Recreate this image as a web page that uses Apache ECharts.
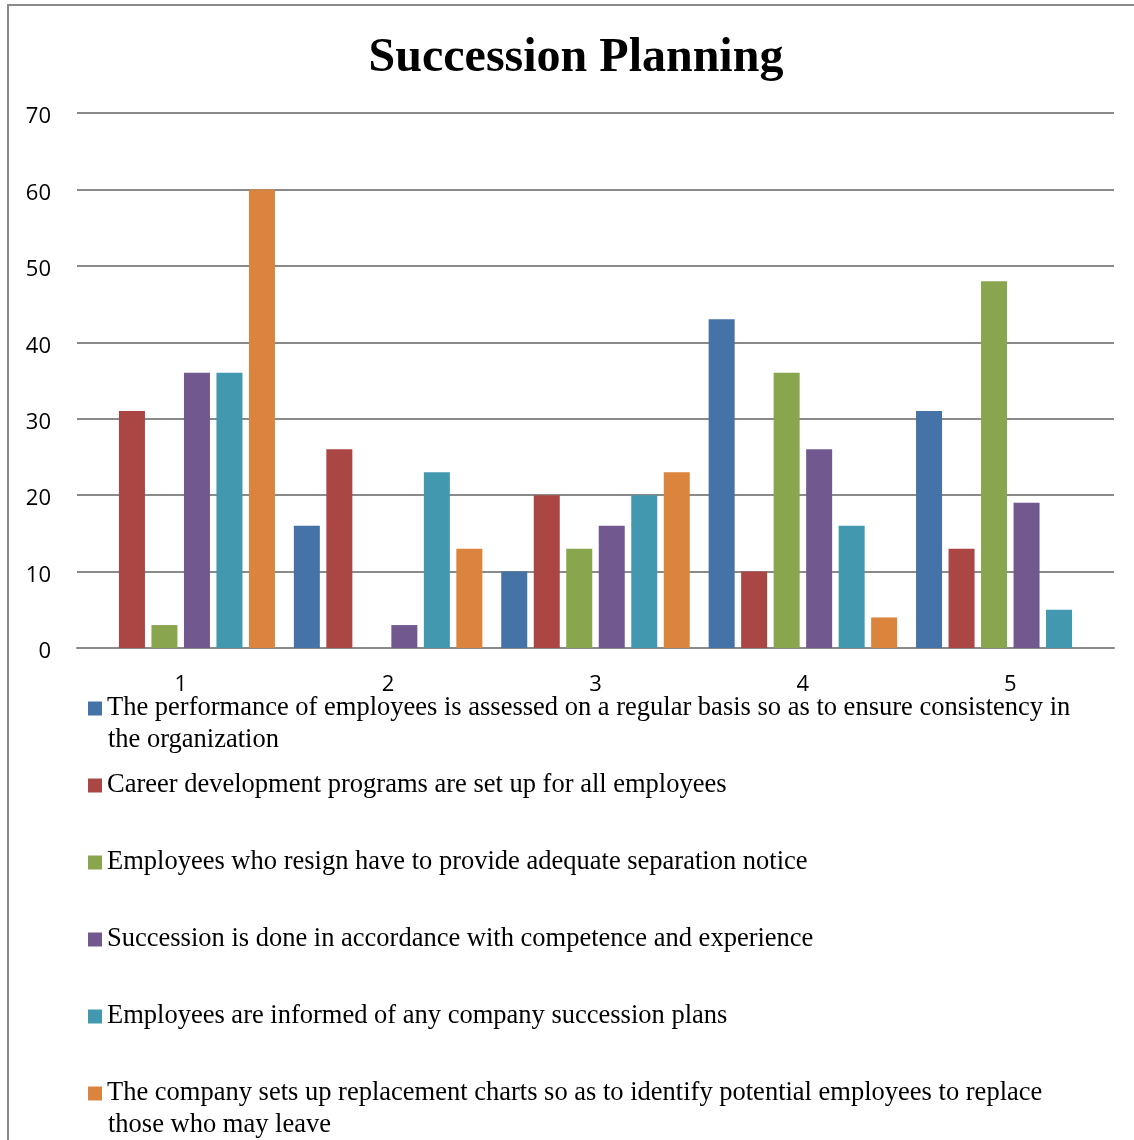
<!DOCTYPE html>
<html>
<head>
<meta charset="utf-8">
<script src="https://cdn.jsdelivr.net/npm/echarts@6/dist/echarts.min.js"></script>
<style>html,body{margin:0;padding:0;background:#fff;}#c{width:1134px;height:1140px;}</style>
</head>
<body>
<div id="c"></div>
<script>
const categories = ['1', '2', '3', '4', '5'];
const seriesNames = [
  'The performance of employees is assessed on a regular basis so as to ensure consistency in the organization',
  'Career development programs are set up for all employees',
  'Employees who resign have to provide adequate separation notice',
  'Succession is done in accordance with competence and experience',
  'Employees are informed of any company succession plans',
  'The company sets up replacement charts so as to identify potential employees to replace those who may leave'
];
const legendFirstLines = [
  'The performance of employees is assessed on a regular basis so as to ensure consistency in',
  'Career development programs are set up for all employees',
  'Employees who resign have to provide adequate separation notice',
  'Succession is done in accordance with competence and experience',
  'Employees are informed of any company succession plans',
  'The company sets up replacement charts so as to identify potential employees to replace'
];
const legendSecondLines = ['the organization', '', '', '', '', 'those who may leave'];
const performanceValues = [0, 16, 10, 43, 31];
const careerValues = [31, 26, 20, 10, 13];
const resignValues = [3, 0, 13, 36, 48];
const successionValues = [36, 3, 16, 26, 19];
const informedValues = [36, 23, 20, 16, 5];
const replacementValues = [60, 13, 23, 4, 0];
const yTicks = [0, 10, 20, 30, 40, 50, 60, 70];
const colors = ['#4572A7', '#AA4643', '#89A54E', '#71588F', '#4198AF', '#DB843D'];

const allValues = [performanceValues, careerValues, resignValues, successionValues, informedValues, replacementValues];

const chart = echarts.init(document.getElementById('c'));
const serif = '"Liberation Serif", "Times New Roman", serif';
const sans = '"Open Sans", "Liberation Sans", sans-serif';
const legendFont = 26.5;

const graphics = [
  { type: 'rect', shape: { x: 8, y: 5, width: 1200, height: 1200 }, style: { fill: 'none', stroke: '#8a8a8a', lineWidth: 2 }, silent: true }
];
const secondLineY = [738, 0, 0, 0, 0, 1123];
legendSecondLines.forEach((t, i) => {
  if (t) graphics.push({ type: 'text', left: 108, top: secondLineY[i] - 11, style: { text: t, font: legendFont + 'px ' + serif, fill: '#000' }, silent: true });
});

chart.setOption({
  animation: false,
  color: colors,
  title: {
    text: 'Succession Planning', top: 30, left: 571, textAlign: 'center',
    textStyle: { fontFamily: serif, fontSize: 48, fontWeight: 'bold', color: '#000' }
  },
  grid: { left: 77, right: 20, top: 113, bottom: 492, containLabel: false },
  legend: {
    orient: 'vertical', left: 83, top: 690,
    itemWidth: 14, itemHeight: 14, itemGap: 50, icon: 'rect',
    data: seriesNames,
    formatter: name => legendFirstLines[seriesNames.indexOf(name)],
    textStyle: { fontFamily: serif, fontSize: legendFont, color: '#000', lineHeight: 24 }
  },
  xAxis: {
    type: 'category', data: categories,
    axisLine: { lineStyle: { color: '#8a8a8a', width: 2 } },
    axisTick: { show: false },
    axisLabel: { fontFamily: sans, fontSize: 22, color: '#000', margin: 26 }
  },
  yAxis: {
    type: 'value', min: 0, max: 70, interval: 10,
    axisLine: { show: false }, axisTick: { show: false },
    splitLine: { lineStyle: { color: '#8a8a8a', width: 2 } },
    axisLabel: { fontFamily: sans, fontSize: 22, color: '#000', margin: 26, verticalAlign: 'top', lineHeight: 8 }
  },
  graphic: graphics,
  series: allValues.map((vals, i) => ({
    name: seriesNames[i], type: 'bar', data: vals,
    barWidth: 26, barGap: '25%'
  }))
});
</script>
</body>
</html>
